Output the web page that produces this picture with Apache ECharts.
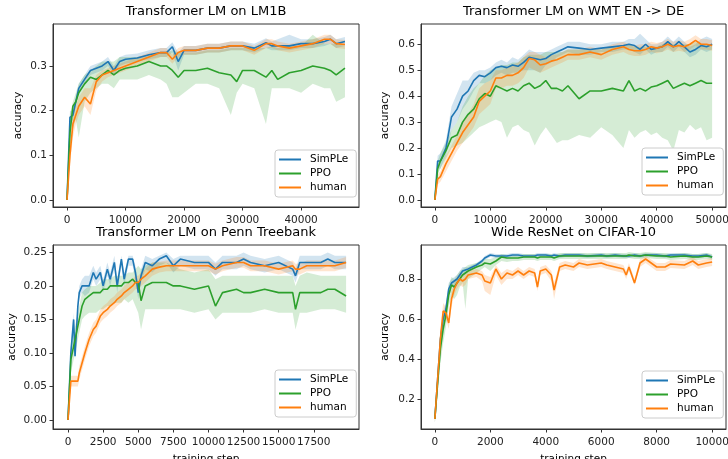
<!DOCTYPE html>
<html>
<head>
<meta charset="utf-8">
<script src="https://cdn.jsdelivr.net/npm/echarts@6/dist/echarts.min.js"></script>
<style>
html, body { margin: 0; padding: 0; background: #fff; }
#chart { width: 728px; height: 459px; }
</style>
</head>
<body>
<div id="chart"></div>
<script>
// ---- LM1B ----
const x1 = [0, 500, 1000, 1500, 2000, 3000, 4000, 5000, 6000, 7000, 8000, 9000, 10000, 12000, 14000, 16000, 17000, 18000, 19000, 20000, 22000, 24000, 26000, 28000, 29000, 30000, 32000, 34000, 35000, 36000, 38000, 40000, 42000, 44000, 45000, 46000, 47500]
const simple1 = [0, 0.185, 0.19, 0.22, 0.25, 0.27, 0.29, 0.295, 0.30, 0.31, 0.29, 0.31, 0.315, 0.318, 0.325, 0.33, 0.33, 0.343, 0.31, 0.335, 0.335, 0.34, 0.34, 0.345, 0.345, 0.345, 0.34, 0.352, 0.345, 0.345, 0.345, 0.35, 0.35, 0.355, 0.36, 0.35, 0.355]
const simpleLo1 = [0, 0.17, 0.18, 0.21, 0.24, 0.26, 0.28, 0.285, 0.29, 0.30, 0.28, 0.30, 0.305, 0.31, 0.315, 0.32, 0.32, 0.33, 0.29, 0.325, 0.325, 0.33, 0.33, 0.335, 0.335, 0.335, 0.33, 0.34, 0.335, 0.335, 0.335, 0.34, 0.34, 0.345, 0.35, 0.34, 0.345]
const simpleHi1 = [0, 0.2, 0.2, 0.23, 0.26, 0.28, 0.30, 0.305, 0.31, 0.32, 0.30, 0.32, 0.325, 0.328, 0.335, 0.34, 0.34, 0.353, 0.33, 0.345, 0.345, 0.35, 0.35, 0.355, 0.355, 0.355, 0.35, 0.362, 0.355, 0.36, 0.37, 0.36, 0.36, 0.365, 0.37, 0.36, 0.365]
const ppo1 = [0, 0.15, 0.21, 0.22, 0.24, 0.26, 0.275, 0.27, 0.28, 0.29, 0.28, 0.29, 0.295, 0.30, 0.31, 0.30, 0.30, 0.29, 0.275, 0.29, 0.29, 0.295, 0.285, 0.28, 0.265, 0.29, 0.29, 0.275, 0.29, 0.27, 0.285, 0.29, 0.30, 0.295, 0.29, 0.28, 0.295]
const ppoLo1 = [0, 0.10, 0.16, 0.18, 0.14, 0.22, 0.24, 0.25, 0.26, 0.26, 0.25, 0.27, 0.27, 0.27, 0.28, 0.27, 0.26, 0.23, 0.23, 0.24, 0.26, 0.26, 0.25, 0.19, 0.24, 0.26, 0.25, 0.17, 0.25, 0.25, 0.25, 0.24, 0.26, 0.25, 0.25, 0.22, 0.23]
const ppoHi1 = [0, 0.19, 0.22, 0.24, 0.26, 0.28, 0.29, 0.30, 0.31, 0.31, 0.31, 0.32, 0.32, 0.32, 0.325, 0.33, 0.33, 0.335, 0.33, 0.33, 0.33, 0.335, 0.335, 0.34, 0.34, 0.34, 0.34, 0.34, 0.345, 0.34, 0.345, 0.345, 0.37, 0.35, 0.35, 0.35, 0.345]
const human1 = [0, 0.10, 0.17, 0.19, 0.21, 0.23, 0.215, 0.265, 0.28, 0.285, 0.29, 0.295, 0.30, 0.31, 0.32, 0.33, 0.33, 0.315, 0.33, 0.335, 0.335, 0.34, 0.34, 0.345, 0.345, 0.345, 0.335, 0.35, 0.35, 0.345, 0.34, 0.345, 0.35, 0.36, 0.36, 0.35, 0.348]
const humanLo1 = [0, 0.08, 0.14, 0.17, 0.19, 0.21, 0.19, 0.245, 0.265, 0.275, 0.28, 0.285, 0.29, 0.30, 0.31, 0.32, 0.32, 0.305, 0.32, 0.325, 0.325, 0.33, 0.33, 0.335, 0.335, 0.335, 0.325, 0.34, 0.34, 0.335, 0.33, 0.335, 0.34, 0.35, 0.35, 0.34, 0.338]
const humanHi1 = [0, 0.12, 0.20, 0.21, 0.23, 0.25, 0.25, 0.28, 0.29, 0.295, 0.30, 0.305, 0.31, 0.32, 0.33, 0.34, 0.34, 0.325, 0.34, 0.345, 0.345, 0.35, 0.35, 0.355, 0.355, 0.355, 0.345, 0.36, 0.36, 0.355, 0.35, 0.355, 0.36, 0.37, 0.37, 0.36, 0.358]

// ---- WMT EN -> DE ----
const x2 = [0, 500, 1000, 2000, 3000, 4000, 5000, 6000, 7000, 8000, 9000, 10000, 11000, 12000, 13000, 14000, 15000, 16000, 17000, 18000, 19000, 20000, 21000, 22000, 23000, 24000, 26000, 28000, 30000, 32000, 34000, 35000, 36000, 37000, 38000, 39000, 40000, 41000, 42000, 43000, 44000, 45000, 46000, 47000, 48000, 49000, 50000]
const simple2 = [0, 0.15, 0.15, 0.20, 0.32, 0.35, 0.40, 0.42, 0.46, 0.48, 0.475, 0.49, 0.51, 0.515, 0.51, 0.52, 0.515, 0.53, 0.55, 0.545, 0.54, 0.545, 0.56, 0.57, 0.58, 0.59, 0.585, 0.58, 0.585, 0.59, 0.595, 0.60, 0.595, 0.58, 0.60, 0.58, 0.585, 0.59, 0.61, 0.59, 0.61, 0.59, 0.57, 0.58, 0.595, 0.59, 0.60]
const simpleLo2 = [0, 0.12, 0.12, 0.17, 0.27, 0.30, 0.35, 0.38, 0.42, 0.45, 0.45, 0.46, 0.48, 0.49, 0.48, 0.49, 0.49, 0.50, 0.50, 0.50, 0.49, 0.52, 0.53, 0.55, 0.56, 0.57, 0.56, 0.56, 0.57, 0.57, 0.58, 0.58, 0.57, 0.56, 0.58, 0.56, 0.57, 0.57, 0.59, 0.57, 0.59, 0.57, 0.55, 0.56, 0.58, 0.57, 0.58]
const simpleHi2 = [0, 0.17, 0.18, 0.23, 0.36, 0.41, 0.46, 0.46, 0.49, 0.50, 0.50, 0.51, 0.53, 0.54, 0.53, 0.55, 0.54, 0.56, 0.58, 0.57, 0.57, 0.57, 0.58, 0.59, 0.60, 0.61, 0.61, 0.60, 0.60, 0.61, 0.61, 0.62, 0.62, 0.64, 0.62, 0.60, 0.60, 0.61, 0.63, 0.61, 0.63, 0.61, 0.59, 0.60, 0.62, 0.63, 0.62]
const ppo2 = [0, 0.12, 0.15, 0.19, 0.24, 0.25, 0.30, 0.33, 0.35, 0.39, 0.41, 0.40, 0.44, 0.43, 0.42, 0.43, 0.42, 0.44, 0.45, 0.43, 0.44, 0.46, 0.43, 0.43, 0.42, 0.44, 0.39, 0.42, 0.42, 0.43, 0.42, 0.46, 0.42, 0.43, 0.42, 0.435, 0.44, 0.45, 0.46, 0.43, 0.44, 0.45, 0.44, 0.45, 0.46, 0.45, 0.45]
const ppoLo2 = [0, 0.10, 0.12, 0.16, 0.20, 0.21, 0.22, 0.24, 0.26, 0.28, 0.29, 0.30, 0.31, 0.30, 0.24, 0.28, 0.29, 0.27, 0.26, 0.21, 0.25, 0.28, 0.25, 0.22, 0.23, 0.23, 0.25, 0.24, 0.28, 0.25, 0.20, 0.27, 0.24, 0.26, 0.27, 0.25, 0.26, 0.24, 0.23, 0.19, 0.27, 0.26, 0.29, 0.27, 0.28, 0.23, 0.24]
const ppoHi2 = [0, 0.15, 0.18, 0.22, 0.27, 0.30, 0.36, 0.40, 0.43, 0.45, 0.48, 0.50, 0.51, 0.52, 0.52, 0.53, 0.53, 0.55, 0.56, 0.56, 0.56, 0.57, 0.57, 0.57, 0.57, 0.58, 0.58, 0.58, 0.58, 0.59, 0.59, 0.60, 0.59, 0.59, 0.59, 0.59, 0.59, 0.60, 0.61, 0.60, 0.60, 0.60, 0.60, 0.61, 0.60, 0.60, 0.60]
const human2 = [0, 0.08, 0.09, 0.14, 0.18, 0.22, 0.26, 0.29, 0.32, 0.38, 0.40, 0.42, 0.47, 0.47, 0.48, 0.48, 0.49, 0.51, 0.545, 0.54, 0.52, 0.525, 0.535, 0.54, 0.55, 0.56, 0.56, 0.57, 0.56, 0.58, 0.59, 0.58, 0.575, 0.575, 0.58, 0.59, 0.585, 0.59, 0.60, 0.59, 0.595, 0.59, 0.60, 0.615, 0.60, 0.60, 0.595]
const humanLo2 = [0, 0.06, 0.07, 0.11, 0.15, 0.19, 0.22, 0.25, 0.28, 0.33, 0.35, 0.37, 0.43, 0.43, 0.44, 0.44, 0.45, 0.47, 0.51, 0.50, 0.49, 0.50, 0.51, 0.52, 0.53, 0.54, 0.54, 0.55, 0.54, 0.56, 0.57, 0.56, 0.555, 0.555, 0.56, 0.57, 0.565, 0.57, 0.58, 0.57, 0.575, 0.57, 0.58, 0.595, 0.58, 0.58, 0.575]
const humanHi2 = [0, 0.10, 0.11, 0.17, 0.21, 0.25, 0.30, 0.33, 0.37, 0.43, 0.45, 0.46, 0.50, 0.50, 0.51, 0.52, 0.53, 0.55, 0.57, 0.57, 0.56, 0.55, 0.56, 0.56, 0.57, 0.58, 0.58, 0.59, 0.58, 0.60, 0.61, 0.60, 0.595, 0.60, 0.60, 0.61, 0.605, 0.61, 0.62, 0.61, 0.615, 0.61, 0.62, 0.635, 0.62, 0.62, 0.615]

// ---- Penn Treebank ----
const x3 = [0, 200, 400, 500, 700, 800, 1000, 1200, 1500, 1800, 2000, 2300, 2500, 2800, 3000, 3300, 3500, 3800, 4000, 4300, 4600, 4800, 5000, 5200, 5500, 6000, 6500, 7000, 7500, 8000, 9000, 10000, 10500, 11000, 12000, 12500, 13000, 14000, 15000, 16000, 16200, 16500, 17000, 18000, 18500, 19000, 19800]
const simple3 = [0, 0.10, 0.15, 0.095, 0.17, 0.19, 0.20, 0.20, 0.20, 0.22, 0.21, 0.22, 0.20, 0.225, 0.21, 0.235, 0.20, 0.24, 0.21, 0.24, 0.24, 0.22, 0.19, 0.215, 0.235, 0.23, 0.24, 0.245, 0.23, 0.24, 0.235, 0.235, 0.225, 0.235, 0.235, 0.24, 0.235, 0.23, 0.235, 0.225, 0.215, 0.235, 0.235, 0.235, 0.24, 0.235, 0.235]
const simpleLo3 = [0, 0.09, 0.13, 0.09, 0.16, 0.18, 0.19, 0.185, 0.19, 0.21, 0.20, 0.21, 0.19, 0.215, 0.20, 0.225, 0.19, 0.23, 0.20, 0.23, 0.23, 0.21, 0.18, 0.205, 0.225, 0.22, 0.23, 0.235, 0.22, 0.23, 0.225, 0.225, 0.215, 0.225, 0.225, 0.23, 0.225, 0.22, 0.225, 0.215, 0.205, 0.225, 0.225, 0.225, 0.23, 0.225, 0.225]
const simpleHi3 = [0, 0.11, 0.16, 0.10, 0.18, 0.20, 0.21, 0.215, 0.215, 0.23, 0.22, 0.23, 0.21, 0.235, 0.22, 0.245, 0.21, 0.245, 0.22, 0.245, 0.245, 0.23, 0.20, 0.225, 0.245, 0.24, 0.245, 0.25, 0.24, 0.245, 0.245, 0.245, 0.235, 0.245, 0.245, 0.25, 0.245, 0.24, 0.245, 0.235, 0.225, 0.245, 0.245, 0.245, 0.25, 0.245, 0.245]
const ppo3 = [0, 0.09, 0.11, 0.12, 0.14, 0.15, 0.17, 0.18, 0.185, 0.19, 0.19, 0.19, 0.195, 0.195, 0.20, 0.20, 0.20, 0.20, 0.205, 0.205, 0.21, 0.205, 0.205, 0.178, 0.20, 0.205, 0.205, 0.205, 0.20, 0.20, 0.195, 0.20, 0.17, 0.19, 0.195, 0.19, 0.19, 0.195, 0.19, 0.19, 0.165, 0.19, 0.19, 0.19, 0.195, 0.195, 0.185]
const ppoLo3 = [0, 0.07, 0.09, 0.10, 0.12, 0.13, 0.15, 0.155, 0.16, 0.16, 0.16, 0.165, 0.165, 0.17, 0.17, 0.175, 0.175, 0.175, 0.18, 0.175, 0.18, 0.17, 0.16, 0.135, 0.165, 0.165, 0.165, 0.165, 0.165, 0.165, 0.16, 0.165, 0.15, 0.16, 0.16, 0.16, 0.16, 0.165, 0.16, 0.16, 0.135, 0.16, 0.16, 0.165, 0.165, 0.165, 0.16]
const ppoHi3 = [0, 0.11, 0.13, 0.14, 0.16, 0.17, 0.19, 0.195, 0.20, 0.20, 0.20, 0.205, 0.21, 0.21, 0.21, 0.215, 0.215, 0.215, 0.215, 0.22, 0.22, 0.225, 0.23, 0.225, 0.23, 0.235, 0.235, 0.235, 0.23, 0.225, 0.22, 0.225, 0.21, 0.215, 0.215, 0.215, 0.215, 0.215, 0.215, 0.215, 0.20, 0.215, 0.22, 0.215, 0.215, 0.215, 0.215]
const human3 = [0, 0.058, 0.058, 0.058, 0.058, 0.07, 0.085, 0.10, 0.12, 0.135, 0.14, 0.155, 0.16, 0.165, 0.17, 0.175, 0.18, 0.185, 0.19, 0.195, 0.20, 0.205, 0.205, 0.21, 0.215, 0.225, 0.228, 0.23, 0.23, 0.23, 0.23, 0.23, 0.225, 0.23, 0.235, 0.235, 0.23, 0.23, 0.225, 0.23, 0.225, 0.225, 0.23, 0.23, 0.23, 0.23, 0.235]
const humanLo3 = [0, 0.05, 0.05, 0.05, 0.05, 0.06, 0.075, 0.09, 0.11, 0.125, 0.13, 0.145, 0.15, 0.155, 0.16, 0.165, 0.17, 0.175, 0.18, 0.185, 0.19, 0.195, 0.195, 0.20, 0.205, 0.215, 0.22, 0.222, 0.222, 0.222, 0.222, 0.222, 0.217, 0.222, 0.227, 0.227, 0.222, 0.222, 0.217, 0.222, 0.217, 0.217, 0.222, 0.222, 0.222, 0.222, 0.227]
const humanHi3 = [0, 0.066, 0.066, 0.066, 0.066, 0.08, 0.095, 0.11, 0.13, 0.145, 0.15, 0.165, 0.17, 0.175, 0.18, 0.185, 0.19, 0.195, 0.20, 0.205, 0.21, 0.215, 0.215, 0.22, 0.225, 0.235, 0.236, 0.238, 0.238, 0.238, 0.238, 0.238, 0.233, 0.238, 0.243, 0.243, 0.238, 0.238, 0.233, 0.238, 0.233, 0.233, 0.238, 0.238, 0.238, 0.238, 0.243]

// ---- CIFAR-10 ----
const x4 = [0, 100, 200, 300, 400, 500, 600, 700, 800, 900, 1000, 1100, 1200, 1500, 1700, 1800, 2000, 2200, 2400, 2600, 2800, 3000, 3200, 3400, 3600, 3700, 3800, 4000, 4200, 4300, 4500, 4700, 5000, 5200, 5500, 6000, 6200, 6500, 6800, 6900, 7000, 7200, 7400, 7600, 8000, 8300, 8500, 9000, 9300, 9500, 9800, 10000]
const simple4 = [0.1, 0.3, 0.5, 0.6, 0.65, 0.75, 0.78, 0.79, 0.80, 0.82, 0.84, 0.845, 0.85, 0.87, 0.89, 0.905, 0.92, 0.915, 0.915, 0.915, 0.92, 0.92, 0.915, 0.915, 0.915, 0.92, 0.92, 0.92, 0.915, 0.92, 0.915, 0.92, 0.92, 0.92, 0.915, 0.92, 0.915, 0.92, 0.915, 0.915, 0.915, 0.92, 0.915, 0.92, 0.92, 0.915, 0.92, 0.92, 0.915, 0.915, 0.92, 0.91]
const simpleLo4 = [0.08, 0.26, 0.46, 0.56, 0.62, 0.72, 0.76, 0.77, 0.78, 0.80, 0.82, 0.83, 0.84, 0.86, 0.88, 0.895, 0.91, 0.905, 0.905, 0.905, 0.91, 0.91, 0.905, 0.905, 0.905, 0.91, 0.91, 0.91, 0.905, 0.91, 0.905, 0.91, 0.91, 0.91, 0.905, 0.91, 0.905, 0.91, 0.905, 0.905, 0.905, 0.91, 0.905, 0.91, 0.91, 0.905, 0.91, 0.91, 0.905, 0.905, 0.91, 0.90]
const simpleHi4 = [0.12, 0.34, 0.54, 0.64, 0.68, 0.78, 0.80, 0.81, 0.82, 0.84, 0.86, 0.86, 0.86, 0.88, 0.90, 0.915, 0.93, 0.925, 0.925, 0.925, 0.93, 0.93, 0.925, 0.925, 0.925, 0.93, 0.93, 0.93, 0.925, 0.93, 0.925, 0.93, 0.93, 0.93, 0.925, 0.93, 0.925, 0.93, 0.925, 0.925, 0.925, 0.93, 0.925, 0.93, 0.93, 0.925, 0.93, 0.93, 0.925, 0.925, 0.93, 0.92]
const ppo4 = [0.1, 0.28, 0.45, 0.55, 0.62, 0.72, 0.77, 0.76, 0.78, 0.80, 0.82, 0.83, 0.84, 0.86, 0.87, 0.88, 0.875, 0.89, 0.91, 0.905, 0.905, 0.905, 0.91, 0.91, 0.91, 0.905, 0.91, 0.91, 0.91, 0.905, 0.915, 0.915, 0.915, 0.915, 0.915, 0.915, 0.915, 0.915, 0.915, 0.915, 0.92, 0.915, 0.915, 0.92, 0.915, 0.915, 0.91, 0.915, 0.91, 0.91, 0.915, 0.91]
const ppoLo4 = [0.08, 0.22, 0.38, 0.48, 0.56, 0.66, 0.72, 0.70, 0.72, 0.76, 0.78, 0.65, 0.80, 0.83, 0.85, 0.86, 0.84, 0.87, 0.89, 0.885, 0.89, 0.89, 0.895, 0.895, 0.895, 0.89, 0.895, 0.895, 0.895, 0.89, 0.90, 0.90, 0.90, 0.90, 0.90, 0.90, 0.90, 0.90, 0.90, 0.90, 0.905, 0.90, 0.90, 0.905, 0.90, 0.90, 0.895, 0.90, 0.895, 0.895, 0.90, 0.895]
const ppoHi4 = [0.12, 0.34, 0.50, 0.60, 0.67, 0.77, 0.81, 0.80, 0.82, 0.84, 0.85, 0.86, 0.87, 0.88, 0.89, 0.90, 0.90, 0.91, 0.925, 0.92, 0.92, 0.92, 0.925, 0.925, 0.925, 0.92, 0.925, 0.925, 0.925, 0.92, 0.93, 0.93, 0.93, 0.93, 0.93, 0.93, 0.93, 0.93, 0.93, 0.93, 0.935, 0.93, 0.93, 0.935, 0.93, 0.93, 0.925, 0.93, 0.925, 0.925, 0.93, 0.925]
const human4 = [0.1, 0.3, 0.5, 0.64, 0.63, 0.58, 0.70, 0.75, 0.78, 0.80, 0.79, 0.80, 0.82, 0.83, 0.82, 0.79, 0.78, 0.85, 0.80, 0.83, 0.82, 0.84, 0.82, 0.84, 0.83, 0.76, 0.84, 0.85, 0.82, 0.745, 0.86, 0.87, 0.86, 0.88, 0.87, 0.88, 0.87, 0.86, 0.85, 0.82, 0.86, 0.78, 0.88, 0.90, 0.86, 0.86, 0.875, 0.87, 0.89, 0.87, 0.88, 0.885]
const humanLo4 = [0.08, 0.26, 0.45, 0.60, 0.60, 0.55, 0.66, 0.72, 0.75, 0.77, 0.76, 0.77, 0.80, 0.81, 0.79, 0.74, 0.72, 0.82, 0.77, 0.80, 0.80, 0.82, 0.80, 0.82, 0.81, 0.74, 0.82, 0.83, 0.79, 0.70, 0.84, 0.85, 0.84, 0.86, 0.85, 0.86, 0.85, 0.84, 0.83, 0.80, 0.84, 0.77, 0.86, 0.88, 0.84, 0.84, 0.855, 0.85, 0.87, 0.85, 0.86, 0.865]
const humanHi4 = [0.12, 0.34, 0.55, 0.68, 0.66, 0.61, 0.74, 0.78, 0.81, 0.83, 0.82, 0.83, 0.84, 0.85, 0.84, 0.82, 0.81, 0.87, 0.83, 0.85, 0.84, 0.86, 0.84, 0.86, 0.85, 0.78, 0.86, 0.87, 0.84, 0.78, 0.88, 0.89, 0.88, 0.90, 0.89, 0.90, 0.89, 0.88, 0.87, 0.84, 0.88, 0.80, 0.90, 0.915, 0.88, 0.88, 0.895, 0.89, 0.91, 0.89, 0.90, 0.905]

// tick labels
const xTicks1 = [0, 10000, 20000, 30000, 40000]
const yTicks1 = [0, 0.1, 0.2, 0.3]
const xTicks2 = [0, 10000, 20000, 30000, 40000, 50000]
const yTicks2 = [0, 0.1, 0.2, 0.3, 0.4, 0.5, 0.6]
const xTicks3 = [0, 2500, 5000, 7500, 10000, 12500, 15000, 17500]
const yTicks3 = [0, 0.05, 0.10, 0.15, 0.20, 0.25]
const xTicks4 = [0, 2000, 4000, 6000, 8000, 10000]
const yTicks4 = [0.2, 0.4, 0.6, 0.8]

const names = ['SimPLe', 'PPO', 'human']
const colors = ['#1f77b4', '#2ca02c', '#ff7f0e']
const bandColors = ['rgba(31,119,180,0.2)', 'rgba(44,160,44,0.2)', 'rgba(255,127,14,0.2)']
const FONT = 'DejaVu Sans'

const panels = [
  { title: 'Transformer LM on LM1B', x: x1,
    lines: [[simple1, simpleLo1, simpleHi1], [ppo1, ppoLo1, ppoHi1], [human1, humanLo1, humanHi1]],
    grid: [53, 24, 306, 183], xr: [-2400, 49900], yr: [-0.0157, 0.394],
    xt: xTicks1, yt: yTicks1, yd: 1, yGap: 29, xName: '', legend: [275, 150], titleTop: 5 },
  { title: 'Transformer LM on WMT EN -> DE', x: x2,
    lines: [[simple2, simpleLo2, simpleHi2], [ppo2, ppoLo2, ppoHi2], [human2, humanLo2, humanHi2]],
    grid: [421, 24, 305, 183], xr: [-2500, 52500], yr: [-0.027, 0.678],
    xt: xTicks2, yt: yTicks2, yd: 1, yGap: 30, xName: '', legend: [642, 148], titleTop: 5 },
  { title: 'Transformer LM on Penn Treebank', x: x3,
    lines: [[simple3, simpleLo3, simpleHi3], [ppo3, ppoLo3, ppoHi3], [human3, humanLo3, humanHi3]],
    grid: [53, 245, 306, 184], xr: [-1070, 20720], yr: [-0.0134, 0.261],
    xt: xTicks3, yt: yTicks3, yd: 2, yGap: 35, xName: 'training step', legend: [275, 370], titleTop: 226 },
  { title: 'Wide ResNet on CIFAR-10', x: x4,
    lines: [[simple4, simpleLo4, simpleHi4], [ppo4, ppoLo4, ppoHi4], [human4, humanLo4, humanHi4]],
    grid: [421, 245, 305, 184], xr: [-500, 10500], yr: [0.05, 0.97],
    xt: xTicks4, yt: yTicks4, yd: 1, yGap: 30, xName: 'training step', legend: [642, 371], titleTop: 226 }
]

function band(i, xs, lo, hi, fill) {
  return {
    type: 'custom', xAxisIndex: i, yAxisIndex: i, silent: true, z: 2,
    data: xs.map((v, k) => [v, lo[k], hi[k]]),
    encode: { x: 0, y: [1, 2] },
    renderItem: function (params, api) {
      if (params.dataIndex !== 0) return null
      const top = [], bot = []
      for (let k = 0; k < xs.length; k++) {
        top.push(api.coord([xs[k], hi[k]]))
        bot.push(api.coord([xs[k], lo[k]]))
      }
      return { type: 'polygon', shape: { points: top.concat(bot.reverse()) }, style: { fill: fill } }
    }
  }
}

const axisColor = '#333'
const grid = [], xAxis = [], yAxis = [], series = [], title = [], legend = []

panels.forEach(function (p, i) {
  const g = p.grid
  grid.push({
    left: g[0], top: g[1], width: g[2], height: g[3], outerBoundsMode: 'none', containLabel: false,
    show: true, borderColor: axisColor, borderWidth: 1
  })
  title.push({
    text: p.title, left: g[0] + g[2] / 2, top: p.titleTop, textAlign: 'center', padding: 0,
    textStyle: { fontFamily: FONT, fontSize: 13, fontWeight: 'normal', color: '#000' }
  })
  xAxis.push({
    gridIndex: i, type: 'value', min: p.xr[0], max: p.xr[1],
    splitLine: { show: false },
    axisLine: { show: true, onZero: false, lineStyle: { color: axisColor } },
    axisTick: { show: true, customValues: p.xt, length: 3.5, lineStyle: { color: axisColor } },
    axisLabel: { customValues: p.xt, formatter: v => String(v), margin: 8, color: '#222', fontFamily: FONT, fontSize: 10.5 },
    name: p.xName, nameLocation: 'middle', nameGap: 25,
    nameTextStyle: { fontFamily: FONT, fontSize: 10.5, color: '#000' }
  })
  yAxis.push({
    gridIndex: i, type: 'value', min: p.yr[0], max: p.yr[1],
    splitLine: { show: false },
    axisLine: { show: true, onZero: false, lineStyle: { color: axisColor } },
    axisTick: { show: true, customValues: p.yt, length: 3.5, lineStyle: { color: axisColor } },
    axisLabel: { customValues: p.yt, formatter: v => v.toFixed(p.yd), margin: 6, color: '#222', fontFamily: FONT, fontSize: 10.5 },
    name: 'accuracy', nameLocation: 'middle', nameGap: p.yGap,
    nameTextStyle: { fontFamily: FONT, fontSize: 10.5, color: '#000' }
  })
  p.lines.forEach(function (s, j) {
    series.push(band(i, p.x, s[1], s[2], bandColors[j]))
  })
  p.lines.forEach(function (s, j) {
    series.push({
      type: 'line', name: names[j], xAxisIndex: i, yAxisIndex: i, z: 3,
      data: p.x.map((v, k) => [v, s[0][k]]),
      showSymbol: false, color: colors[j],
      lineStyle: { width: 1.6, color: colors[j] }
    })
  })
  legend.push({
    data: names, orient: 'vertical', left: p.legend[0], top: p.legend[1],
    icon: 'rect', itemWidth: 22, itemHeight: 2, itemGap: 3, padding: [4, 8, 4, 4],
    borderColor: '#ccc', borderWidth: 1, borderRadius: 3, backgroundColor: '#fff',
    selectedMode: false,
    textStyle: { fontFamily: FONT, fontSize: 10.5, color: '#000', padding: [0, 0, 0, 4] }
  })
})

const chart = echarts.init(document.getElementById('chart'), null, { renderer: 'canvas' })
chart.setOption({
  animation: false,
  backgroundColor: '#fff',
  title: title,
  legend: legend,
  grid: grid,
  xAxis: xAxis,
  yAxis: yAxis,
  series: series
})
</script>
</body>
</html>
